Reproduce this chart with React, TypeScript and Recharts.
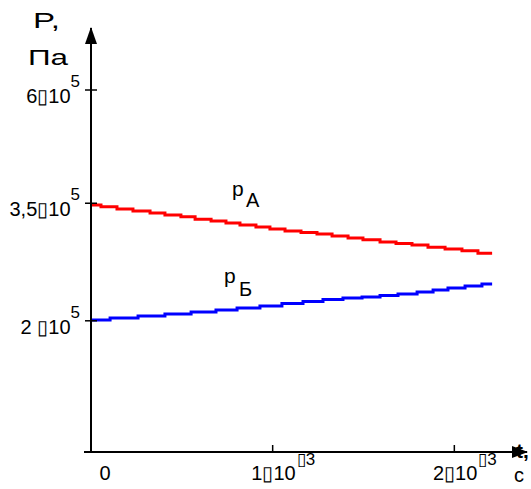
import React from 'react';
import { LineChart, Line, XAxis, YAxis } from 'recharts';

// time, s (step positions)
const redT = [0, 0.000055, 0.000143, 0.000231, 0.000325, 0.000407, 0.000495, 0.000573, 0.000661, 0.000743, 0.00082, 0.000908, 0.000985, 0.001068, 0.001156, 0.001244, 0.001327, 0.001415, 0.001497, 0.001591, 0.001679, 0.001767, 0.001855, 0.001949, 0.002042, 0.00213, 0.002208];
// pressure p_A, Pa
const redP = [347000, 344000, 340500, 337500, 334000, 331000, 328000, 324500, 321500, 318500, 315500, 312500, 309500, 306500, 304500, 302500, 299500, 296500, 294000, 291000, 289000, 287000, 284000, 281500, 279000, 276000, 276000];

const blueT = [0, 0.000105, 0.000259, 0.000407, 0.000551, 0.000688, 0.000804, 0.00093, 0.001051, 0.001167, 0.001277, 0.001387, 0.001492, 0.001591, 0.00169, 0.001795, 0.001883, 0.001965, 0.002059, 0.002152, 0.002208];
// pressure p_Б, Pa
const blueP = [200800, 202700, 204650, 206600, 208600, 210600, 212600, 214600, 217200, 219300, 221400, 222950, 224000, 225650, 227200, 229400, 231600, 233800, 236050, 238300, 238300];

const yTicks = [200000, 350000, 600000];
const yTickLabels = ['2 ▯10', '3,5▯10', '6▯10'];
const yTickExp = ['5', '5', '5'];

const xTicks = [0, 0.001, 0.002];
const xTickLabels = ['0', '1▯10', '2▯10'];
const xTickExp = ['', '▯3', '▯3'];

const FONT = '"Liberation Sans", Arial, sans-serif';

const redData = redT.map((t, i) => ({ t, p: redP[i] }));
const blueData = blueT.map((t, i) => ({ t, p: blueP[i] }));

function YTick(props: any) {
  const x = Number(props.x);
  const y = Number(props.y);
  const i = yTicks.indexOf(props.payload.value);
  return (
    <g>
      <line x1={x - 6} x2={x + 6} y1={y} y2={y} stroke="#000" strokeWidth={1.5} />
      <text x={x - 11} y={y + 13} textAnchor="end" fontSize={20} fontFamily={FONT} fill="#000">
        {yTickLabels[i]}
        <tspan dy={-16} fontSize={17}>{yTickExp[i]}</tspan>
      </text>
    </g>
  );
}

function XTick(props: any) {
  const x = Number(props.x);
  const y = Number(props.y);
  const i = xTicks.indexOf(props.payload.value);
  if (i === 0) {
    return (
      <text x={x + 14} y={y + 28} textAnchor="middle" fontSize={20} fontFamily={FONT} fill="#000">
        {xTickLabels[i]}
      </text>
    );
  }
  return (
    <g>
      <line x1={x} x2={x} y1={y - 7} y2={y} stroke="#000" strokeWidth={1.5} />
      <text x={x + 23} y={y + 28} textAnchor="end" fontSize={20} fontFamily={FONT} fill="#000">
        {xTickLabels[i]}
      </text>
      <text x={x + 24} y={y + 13} textAnchor="start" fontSize={17} fontFamily={FONT} fill="#000">
        {xTickExp[i]}
      </text>
    </g>
  );
}

export default function App() {
  return (
    <div style={{ position: 'absolute', left: 0, top: 0, width: 531, height: 489, background: '#fff' }}>
      <LineChart width={531} height={489} margin={{ top: 28, right: 4, bottom: 7, left: 0 }}>
        <XAxis
          type="number"
          dataKey="t"
          domain={[0, 0.0024]}
          allowDataOverflow
          ticks={xTicks}
          tick={<XTick />}
          tickLine={false}
          tickSize={0}
          tickMargin={0}
          height={30}
          axisLine={{ stroke: '#000', strokeWidth: 2 }}
        />
        <YAxis
          type="number"
          dataKey="p"
          scale="log"
          domain={[107100, 806000]}
          allowDataOverflow
          ticks={yTicks}
          tick={<YTick />}
          tickLine={false}
          tickSize={0}
          tickMargin={0}
          width={91}
          axisLine={{ stroke: '#000', strokeWidth: 2 }}
        />
        <Line data={redData} dataKey="p" type="stepAfter" stroke="#ff0000" strokeWidth={3} dot={false} isAnimationActive={false} />
        <Line data={blueData} dataKey="p" type="stepAfter" stroke="#0000ff" strokeWidth={3} dot={false} isAnimationActive={false} />
      </LineChart>
      <svg width={531} height={489} style={{ position: 'absolute', left: 0, top: 0, pointerEvents: 'none' }}>
        <line x1={84} x2={92} y1={452} y2={452} stroke="#000" strokeWidth={2} />
        <polygon points="91,27 85,44 97,44" fill="#000" />
        <polygon points="528,452 512,446 512,458" fill="#000" />
        <text x={33} y={28} fontFamily={FONT} fontSize={22} fill="#000" textLength={27} lengthAdjust="spacingAndGlyphs">P,</text>
        <text x={28} y={65} fontFamily={FONT} fontSize={22} fill="#000" textLength={40} lengthAdjust="spacingAndGlyphs">Па</text>
        <text x={516} y={458} fontFamily={FONT} fontSize={21} fontWeight="bold" fill="#000">t,</text>
        <text x={514} y={482} fontFamily={FONT} fontSize={20} fill="#000">с</text>
        <text fontFamily={FONT} fill="#000">
          <tspan x={232} y={196} fontSize={21}>p</tspan>
          <tspan x={246} y={207} fontSize={20}>А</tspan>
        </text>
        <text fontFamily={FONT} fill="#000">
          <tspan x={224} y={283} fontSize={21}>p</tspan>
          <tspan x={239} y={296} fontSize={20}>Б</tspan>
        </text>
      </svg>
    </div>
  );
}
